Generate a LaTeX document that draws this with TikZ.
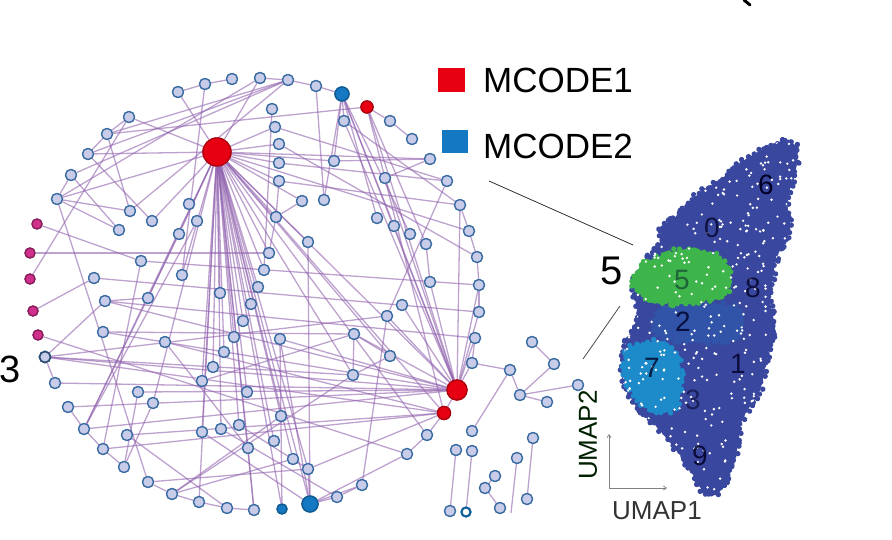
\documentclass[tikz,border=0pt]{standalone}
\usepackage{fontspec}
\setmainfont{Liberation Sans}
\usetikzlibrary{decorations.markings,arrows.meta}
\definecolor{ndfill}{HTML}{C8CCE8}
\definecolor{ndline}{HTML}{3A6CA3}
\definecolor{edgec}{HTML}{9163AE}
\definecolor{mred}{HTML}{E60012}
\definecolor{mblue}{HTML}{1478C2}
\definecolor{mag}{HTML}{D12F8C}
\definecolor{umapblue}{HTML}{3A479E}
\definecolor{umapmid}{HTML}{3153A8}
\definecolor{umaplight}{HTML}{1D8AC9}
\definecolor{umapgreen}{HTML}{3DB54A}
\tikzset{
  nd/.style={circle, fill=ndfill, draw=ndline, line width=1.3pt, minimum size=11pt, inner sep=0pt},
  magnd/.style={nd, fill=mag, draw=mag!65!black, minimum size=10pt},
  rednd/.style={nd, fill=mred, draw=mred!75!black},
  bluend/.style={nd, fill=mblue, draw=mblue!75!black},
  edge/.style={draw=edgec, opacity=0.6, line width=1.3pt},
  rag/.style={decoration={markings, mark=between positions 0 and 1 step 3.5pt with {\fill[#1] (rand*2.5,rand*2.5) circle (2.7pt);}}, postaction={decorate}},
  lbl/.style={font=\fontsize{28}{30}\selectfont, text=black!85!blue, inner sep=0pt},
}
\begin{document}
\begin{tikzpicture}[x=1pt,y=-1pt]
\useasboundingbox (0,0) rectangle (892,540);
\pgfmathsetseed{42}
% ---------- network nodes ----------
\node[nd] (n1) at (178,92) {};
\node[nd] (n2) at (205,84) {};
\node[nd] (n3) at (232,79) {};
\node[nd] (n4) at (260,78) {};
\node[nd] (n5) at (288,80) {};
\node[nd] (n6) at (316,86) {};
\node[bluend, minimum size=14pt] (b1) at (342,94) {};
\node[rednd, minimum size=12pt] (r1) at (367,107) {};
\node[nd] (n7) at (390,121) {};
\node[nd] (n8) at (412,139) {};
\node[nd] (n9) at (344,121) {};
\node[nd] (n10) at (129,117) {};
\node[nd] (n11) at (107,134) {};
\node[nd] (n12) at (88,154) {};
\node[nd] (n13) at (71,175) {};
\node[nd] (n14) at (57,199) {};
\node[magnd] (m1) at (37,224) {};
\node[magnd] (m2) at (30,253) {};
\node[magnd] (m3) at (30,279) {};
\node[magnd] (m4) at (33,311) {};
\node[magnd] (m5) at (38,335) {};
\node[nd, draw=ndline!70!black, line width=1.6pt] (n15) at (45,357) {};
\node[nd] (n16) at (55,383) {};
\node[nd] (n17) at (68,407) {};
\node[nd] (n18) at (84,429) {};
\node[nd] (n19) at (103,449) {};
\node[nd] (n20) at (124,467) {};
\node[nd] (n21) at (148,482) {};
\node[nd] (n22) at (172,494) {};
\node[nd] (n23) at (199,502) {};
\node[nd] (n24) at (227,508) {};
\node[nd] (n25) at (254,510) {};
\node[bluend, minimum size=10pt] (b2) at (282,509) {};
\node[bluend, minimum size=16pt] (B3) at (310,504) {};
\node[nd] (n26) at (337,497) {};
\node[nd] (n27) at (362,485) {};
\node[nd] (n28) at (407,454) {};
\node[nd] (n29) at (427,435) {};
\node[nd] (n30) at (472,363) {};
\node[nd] (n31) at (475,338) {};
\node[nd] (n32) at (479,312) {};
\node[nd] (n33) at (479,285) {};
\node[nd] (n34) at (477,257) {};
\node[nd] (n35) at (469,231) {};
\node[nd] (n36) at (460,205) {};
\node[nd] (n37) at (447,181) {};
\node[nd] (n38) at (430,159) {};
% inner
\node[nd] (i1) at (272,109) {};
\node[nd] (i2) at (275,127) {};
\node[nd] (i3) at (279,144) {};
\node[nd] (i4) at (279,163) {};
\node[nd] (i5) at (279,181) {};
\node[nd] (i6) at (302,201) {};
\node[nd] (i7) at (276,217) {};
\node[nd] (i8) at (308,242) {};
\node[nd] (i9) at (269,253) {};
\node[nd] (i10) at (264,270) {};
\node[nd] (i11) at (258,287) {};
\node[nd] (i12) at (251,304) {};
\node[nd] (i13) at (243,321) {};
\node[nd] (i14) at (234,337) {};
\node[nd] (i15) at (224,352) {};
\node[nd] (i16) at (213,367) {};
\node[nd] (i17) at (202,381) {};
\node[nd] (i18) at (189,204) {};
\node[nd] (i19) at (197,221) {};
\node[nd] (i20) at (179,234) {};
\node[nd] (i21) at (152,221) {};
\node[nd] (i22) at (130,211) {};
\node[nd] (i23) at (119,230) {};
\node[nd] (i24) at (141,261) {};
\node[nd] (i25) at (94,278) {};
\node[nd] (i26) at (182,275) {};
\node[nd] (i27) at (220,293) {};
\node[nd] (i28) at (105,301) {};
\node[nd] (i29) at (148,298) {};
\node[nd] (i30) at (103,332) {};
\node[nd] (i31) at (165,342) {};
\node[nd] (i32) at (138,392) {};
\node[nd] (i33) at (153,403) {};
\node[nd] (i34) at (127,435) {};
\node[nd] (i35) at (202,432) {};
\node[nd] (i36) at (221,429) {};
\node[nd] (i37) at (239,425) {};
\node[nd] (i38) at (248,448) {};
\node[nd] (i39) at (274,441) {};
\node[nd] (i40) at (293,459) {};
\node[nd] (i41) at (308,469) {};
\node[nd] (i42) at (247,392) {};
\node[nd] (i43) at (281,416) {};
\node[nd] (i44) at (280,339) {};
\node[nd] (i45) at (334,161) {};
\node[nd] (i46) at (324,200) {};
\node[nd] (i47) at (377,218) {};
\node[nd] (i48) at (394,226) {};
\node[nd] (i49) at (410,234) {};
\node[nd] (i50) at (426,244) {};
\node[nd] (i51) at (385,178) {};
\node[nd] (i52) at (430,282) {};
\node[nd] (i53) at (402,305) {};
\node[nd] (i54) at (387,316) {};
\node[nd] (i55) at (354,334) {};
\node[nd] (i56) at (390,356) {};
\node[nd] (i57) at (353,375) {};
\node[rednd, minimum size=20pt] (R2) at (457,390) {};
\node[rednd, minimum size=13pt] (r2) at (444,413) {};
\node[rednd, minimum size=28pt] (R1) at (217,152) {};
% outside
\node[nd] (o1) at (510,370) {};
\node[nd] (o2) at (532,342) {};
\node[nd] (o3) at (554,364) {};
\node[nd] (o4) at (520,395) {};
\node[nd] (o5) at (547,402) {};
\node[nd] (o6) at (578,385) {};
\node[nd] (o7) at (472,431) {};
\node[nd] (o8) at (456,450) {};
\node[nd] (o9) at (472,451) {};
\node[nd] (o10) at (450,511) {};
\node[circle, fill=white, draw=mblue!80!black, line width=2pt, minimum size=9pt, inner sep=0pt] (o11) at (466,512) {};
\node[nd] (o12) at (495,476) {};
\node[nd] (o13) at (485,488) {};
\node[nd] (o14) at (500,508) {};
\node[nd] (o15) at (517,458) {};
\node[nd] (o16) at (533,438) {};
\node[nd] (o17) at (527,499) {};
\coordinate (e1) at (511,513);
% ---------- edges ----------
\foreach \a/\b in {R1/n1, R1/n4, R1/n10, R1/n12, R1/n14, R1/i2, R1/i3, R1/i4, R1/i5, R1/i6, R1/i7, R1/i8, R1/i9, R1/i10, R1/i11, R1/i12, R1/i13, R1/i14, R1/i15, R1/i16, R1/i17, R1/i26, R1/i27, R1/i35, R1/i36, R1/i37, R1/i38, R1/i39, R1/i40, R1/i42, R1/i43, R1/n23, R1/n25, R1/b2, R1/B3, R1/R2, R1/r2, R1/n29, R1/i57, R1/i56, R1/n38, R1/i45, R1/i21, R1/i20, R1/n18, R1/i29, R1/i33, R1/i41, R1/n35,
 n1/n2, n2/n3, n4/n5, n5/n6, n6/b1, b1/n9, r1/n7, n7/n8, n10/n11, n11/n12, n13/n14, n15/n16, n17/n18, n18/n19, n19/n20, n21/n22, n22/n23, n23/n24, n24/n25, B3/n26, n26/n27, n28/n29, n29/r2, n30/n31, n32/n33, n33/n34, n34/n35, n38/i51,
 n2/i26, n5/n11, n5/n12, n5/n13, n5/i22, n4/n14, n10/m3, n14/i22, n14/i23, n14/n21, m1/i24, m2/i9, m4/i25, m5/n28, n15/R2, n15/i28, n15/i57, i28/i29, n18/i20, n18/i19, n18/R2, n19/i24, n20/i33, i34/n24, n21/i41, n22/i40, n22/i43, i31/i38, i17/i55, b1/i45, b1/i46, b1/i47, b1/i48, b1/i49, b1/R2, r1/n11, r1/i50, r1/r2, n9/n36, i45/n38, i4/n37, i2/n37, i5/n36, i3/n34, n36/n35, i1/i10, i5/i7, i6/i7, i7/i9, n6/i46, n16/R2, n15/i54, i25/n32, i28/n31, i24/n33, i30/i55, B3/i41, B3/n28, B3/n27, B3/i8, B3/i44, b2/i44, i35/B3, i36/n26, i37/i41, i38/n25,
 R2/r1, R2/n9, R2/i51, R2/n36, R2/n33, R2/n32, R2/n31, R2/n30, R2/i53, R2/i54, R2/i55, R2/i44, R2/i28, R2/i30, R2/n17, R2/i32, r2/n15, r2/i31, r2/i34, r2/n19, r2/i41, r2/R2, i48/R2, i50/i52, i52/R2, n37/i54, i55/i56, i55/i57, i56/i57, i54/n27, i57/n22, n12/i21, n11/i22, i32/n20, n13/i23,
 n30/o1, o1/o4, o1/o7, o2/o3, o3/o4, o4/o6, o4/o5, o8/o10, o9/o11, o12/o13, o13/o14, o15/e1, o16/o17}
  {\draw[edge] (\a) -- (\b);}
% nodes drawn again on top of the edges
\foreach \n in {n1,n2,n3,n4,n5,n6,n7,n8,n9,n10,n11,n12,n13,n14,n16,n17,n18,n19,n20,n21,n22,n23,n24,n25,n26,n27,n28,n29,n30,n31,n32,n33,n34,n35,n36,n37,n38,i1,i2,i3,i4,i5,i6,i7,i8,i9,i10,i11,i12,i13,i14,i15,i16,i17,i18,i19,i20,i21,i22,i23,i24,i25,i26,i27,i28,i29,i30,i31,i32,i33,i34,i35,i36,i37,i38,i39,i40,i41,i42,i43,i44,i45,i46,i47,i48,i49,i50,i51,i52,i53,i54,i55,i56,i57,o1,o2,o3,o4,o5,o6,o7,o8,o9,o10,o12,o13,o14,o15,o16,o17}
  {\node[nd] at (\n) {};}
\node[nd, draw=ndline!70!black, line width=1.6pt] at (n15) {};
\foreach \n in {m1,m2,m3,m4,m5} {\node[magnd] at (\n) {};}
\node[bluend, minimum size=14pt] at (b1) {};
\node[bluend, minimum size=10pt] at (b2) {};
\node[bluend, minimum size=16pt] at (B3) {};
\node[rednd, minimum size=12pt] at (r1) {};
\node[rednd, minimum size=20pt] at (R2) {};
\node[rednd, minimum size=13pt] at (r2) {};
\node[rednd, minimum size=28pt] at (R1) {};
\node[circle, fill=white, draw=mblue!80!black, line width=2pt, minimum size=9pt, inner sep=0pt] at (o11) {};
% ---------- UMAP scatter ----------
\fill[umapblue, rag=umapblue] plot[smooth cycle, tension=0.5] coordinates {(787,140) (797,150) (795,175) (787,200) (790,230) (777,257) (770,297) (775,330) (767,357) (760,390) (742,420) (737,450) (727,480) (717,494) (705,494) (695,478) (680,455) (655,425) (637,408) (623,378) (626,343) (637,317) (634,283) (646,260) (660,243) (662,228) (680,213) (697,194) (720,180) (740,163) (767,147)};
\fill[umapmid, rag=umapmid] plot[smooth cycle, tension=0.5] coordinates {(660,308) (700,305) (735,307) (743,322) (736,338) (705,342) (674,340) (656,331)};
\fill[umapgreen, rag=umapgreen] plot[smooth cycle, tension=0.5] coordinates {(663,255) (690,249) (720,258) (731,277) (723,297) (700,301) (680,304) (647,298) (633,284) (640,267)};
\fill[umaplight, rag=umaplight] plot[smooth cycle, tension=0.5] coordinates {(630,347) (657,342) (677,355) (681,383) (677,407) (660,412) (640,402) (624,378) (626,357)};
\begin{scope}
\clip plot[smooth cycle, tension=0.5] coordinates {(787,140) (797,150) (795,175) (787,200) (790,230) (777,257) (770,297) (775,330) (767,357) (760,390) (742,420) (737,450) (727,480) (717,494) (705,494) (695,478) (680,455) (655,425) (637,408) (623,378) (626,343) (637,317) (634,283) (646,260) (660,243) (662,228) (680,213) (697,194) (720,180) (740,163) (767,147)};
\foreach \i in {1,...,520} {\fill[white] ({620+180*rnd},{138+360*rnd}) circle (1.35pt);}
\end{scope}
\node[lbl] (c6) at (766,185) {6};
\node[lbl, opacity=0.75] (c0) at (712,228) {0};
\node[lbl, opacity=0.8] (c8) at (753,288) {8};
\node[lbl, opacity=0.45] (c5) at (682,280) {5};
\node[lbl, opacity=0.8] (c2) at (683,322) {2};
\node[lbl, opacity=0.8] (c1) at (738,364) {1};
\node[lbl, opacity=0.8] (c7) at (652,368) {7};
\node[lbl, opacity=0.55] (c3) at (693,400) {3};
\node[lbl, opacity=0.85] (c9) at (700,456) {9};
% ---------- legend and labels ----------
\fill[mred] (438,68) rectangle (465,92);
\fill[mblue] (442,130) rectangle (468,153);
\node[anchor=west, inner sep=0pt, font=\fontsize{35}{38}\selectfont] (L1) at (483,80) {MCODE1};
\node[anchor=west, inner sep=0pt, font=\fontsize{35}{38}\selectfont] (L2) at (483,146.5) {MCODE2};
\node[inner sep=0pt, font=\fontsize{40}{44}\selectfont] (t5) at (612,271) {5};
\node[anchor=west, inner sep=0pt, font=\fontsize{38}{42}\selectfont] (t3) at (-1,369) {3};
\coordinate (c5a) at (489,181);
\coordinate (c5b) at (633,245);
\coordinate (c5c) at (620,306);
\coordinate (c5d) at (583,359);
\draw[black!80, line width=0.8pt] (c5a) -- (c5b);
\draw[black!70, line width=0.8pt] (c5c) -- (c5d);
% axes
\coordinate (ax0) at (609,488);
\coordinate (axy) at (609,434);
\coordinate (axx) at (667,488);
\draw[gray, line width=0.7pt, -{Straight Barb[length=3pt,width=4pt]}] (ax0) -- (axy);
\draw[gray, line width=0.7pt, -{Straight Barb[length=3pt,width=4pt]}] (ax0) -- (axx);
\node[rotate=90, inner sep=0pt, text=black!80!green!60!black, font=\fontsize{26}{28}\selectfont] (u2) at (588,435) {UMAP2};
\node[inner sep=0pt, text=black!80, font=\fontsize{26}{28}\selectfont] (u1) at (657,511) {UMAP1};
% clipped mark at top
\draw[black, line width=3pt, line cap=round] (744,0) -- (750,5);
\end{tikzpicture}
\end{document}
